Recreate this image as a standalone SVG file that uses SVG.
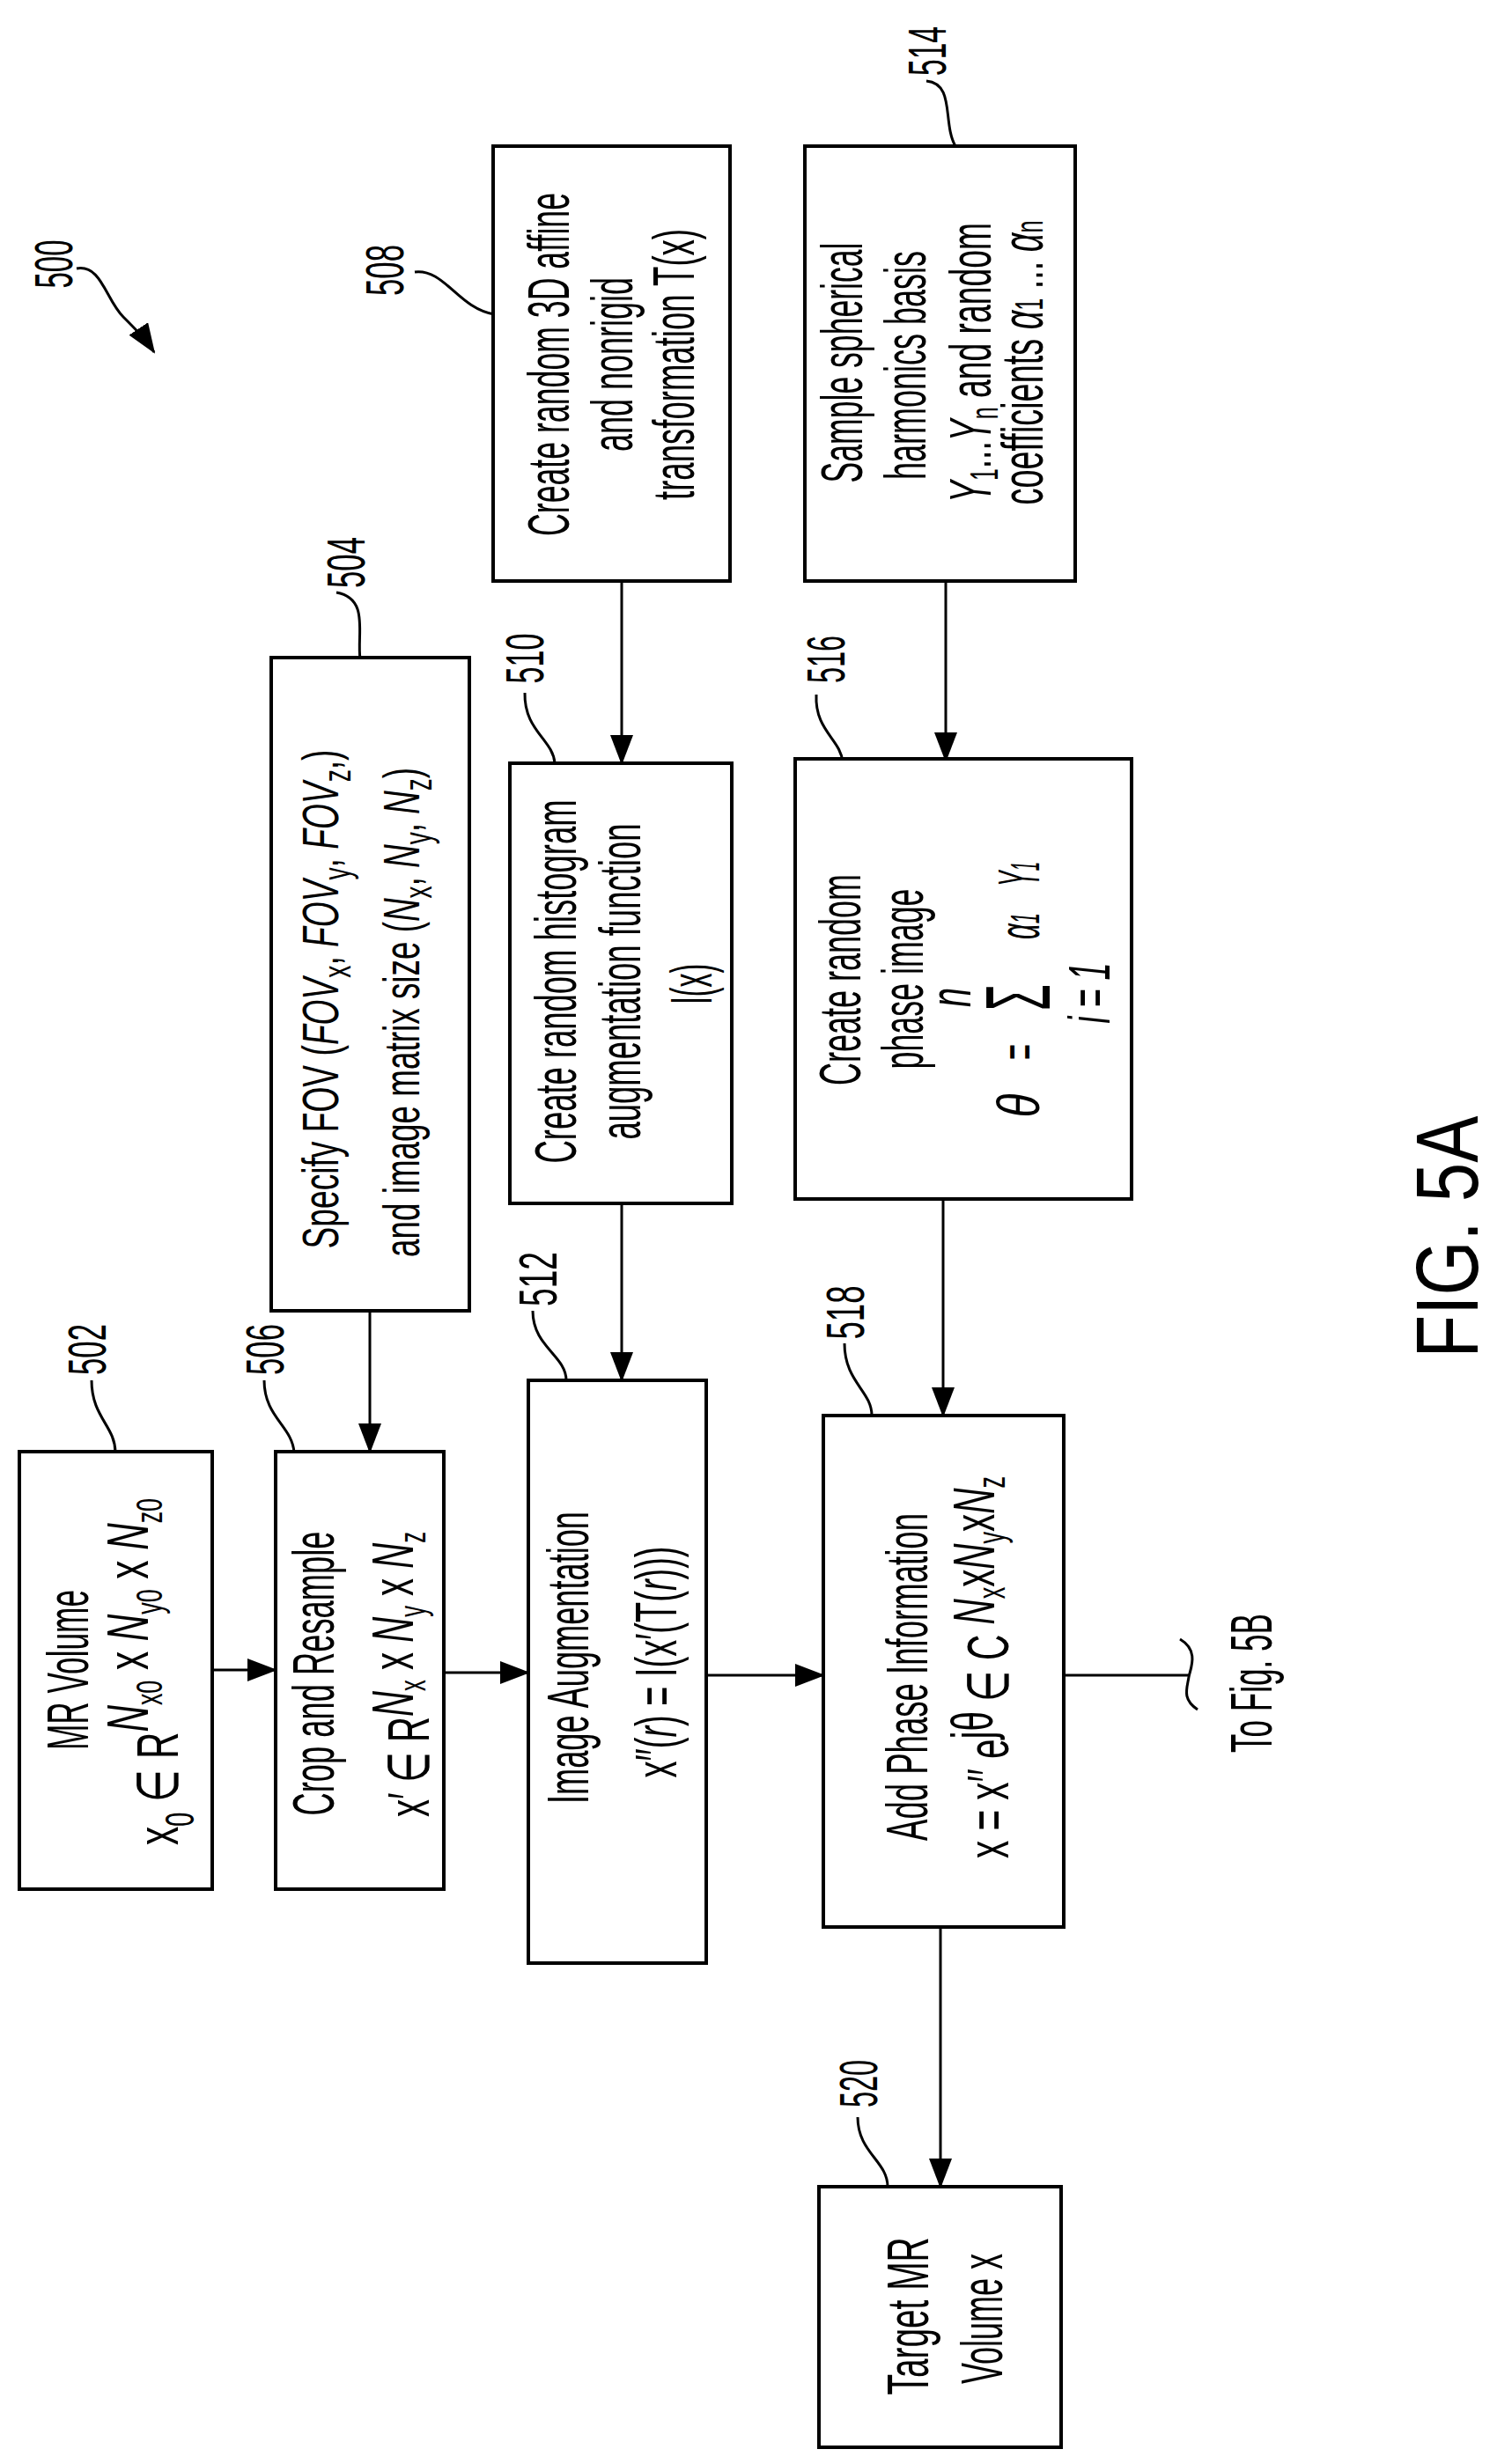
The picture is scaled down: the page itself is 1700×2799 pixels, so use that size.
<svg xmlns="http://www.w3.org/2000/svg" width="1700" height="2799" viewBox="0 0 1700 2799">
<style>
text{font-family:"Liberation Sans",Arial,sans-serif;fill:#000;font-size:66px;text-anchor:middle}
.lbl{font-size:62px}
.box{fill:#fff;stroke:#000;stroke-width:4}
.ln{fill:none;stroke:#000;stroke-width:3}
.ld{fill:none;stroke:#000;stroke-width:3}
</style>
<defs>
<marker id="ah" markerUnits="userSpaceOnUse" markerWidth="34" markerHeight="26" refX="32" refY="13" orient="auto">
<path d="M0,0 L34,13 L0,26 Z" fill="#000"/>
</marker>
</defs>
<rect width="1700" height="2799" fill="#fff"/>

<g id="connectors">
<line class="ln" x1="241" y1="1897" x2="313" y2="1897" marker-end="url(#ah)"/>
<line class="ln" x1="420" y1="1489" x2="420" y2="1649" marker-end="url(#ah)"/>
<line class="ln" x1="504" y1="1900" x2="600" y2="1900" marker-end="url(#ah)"/>
<line class="ln" x1="706" y1="660" x2="706" y2="867" marker-end="url(#ah)"/>
<line class="ln" x1="706" y1="1367" x2="706" y2="1568" marker-end="url(#ah)"/>
<line class="ln" x1="1074" y1="660" x2="1074" y2="864" marker-end="url(#ah)"/>
<line class="ln" x1="1071" y1="1362" x2="1071" y2="1608" marker-end="url(#ah)"/>
<line class="ln" x1="802" y1="1903" x2="935" y2="1903" marker-end="url(#ah)"/>
<line class="ln" x1="1068" y1="2189" x2="1068" y2="2484" marker-end="url(#ah)"/>
<line class="ln" x1="1208" y1="1903" x2="1350" y2="1903"/>
<path class="ln" d="M1340,1862 C1362,1875 1352,1895 1350,1905 C1348,1918 1342,1930 1360,1942"/>
<path class="ld" d="M87,305 C115,300 120,340 140,360 C155,375 165,385 175,400" marker-end="url(#ah)"/>
</g>

<g id="leaders">
<path class="ld" d="M471,309 C505,305 520,350 561,357"/>
<path class="ld" d="M1052,92 C1085,95 1070,140 1085,166"/>
<path class="ld" d="M382,673 C420,680 405,720 409,749"/>
<path class="ld" d="M596,787 C595,830 628,840 630,867"/>
<path class="ld" d="M927,789 C925,830 955,840 957,866"/>
<path class="ld" d="M104,1568 C104,1610 131,1620 131,1650"/>
<path class="ld" d="M300,1568 C300,1610 332,1620 334,1650"/>
<path class="ld" d="M605,1489 C605,1530 643,1540 643,1568"/>
<path class="ld" d="M959,1526 C959,1570 990,1580 990,1608"/>
<path class="ld" d="M974,2405 C974,2445 1008,2455 1008,2484"/>
</g>

<g id="n500"><text class="lbl" transform="translate(82,300) rotate(-90)" textLength="55" lengthAdjust="spacingAndGlyphs">500</text></g>

<g id="n502">
<text class="lbl" transform="translate(120,1533) rotate(-90)" textLength="58" lengthAdjust="spacingAndGlyphs">502</text>
<rect class="box" x="22" y="1649" width="219" height="497"/>
<text transform="translate(100,1897) rotate(-90)" textLength="182" lengthAdjust="spacingAndGlyphs">MR Volume</text>
<text transform="translate(202,1899) rotate(-90)" textLength="394" lengthAdjust="spacingAndGlyphs">x<tspan font-size="46" dy="18">0</tspan><tspan dy="-18"> ∈ R</tspan><tspan dy="-34" font-style="italic">N</tspan><tspan font-size="42" dy="16">x0</tspan><tspan dy="-16"> x </tspan><tspan font-style="italic">N</tspan><tspan font-size="42" dy="16">y0</tspan><tspan dy="-16"> x </tspan><tspan font-style="italic">N</tspan><tspan font-size="42" dy="16">z0</tspan></text>
</g>

<g id="n504">
<text class="lbl" transform="translate(414,639) rotate(-90)" textLength="58" lengthAdjust="spacingAndGlyphs">504</text>
<rect class="box" x="308" y="747" width="225" height="742"/>
<text style="font-size:58px" transform="translate(384,1135) rotate(-90)" textLength="567" lengthAdjust="spacingAndGlyphs">Specify FOV (<tspan font-style="italic">FOV</tspan><tspan font-size="44" dy="14">x</tspan><tspan dy="-14">, </tspan><tspan font-style="italic">FOV</tspan><tspan font-size="44" dy="14">y</tspan><tspan dy="-14">, </tspan><tspan font-style="italic">FOV</tspan><tspan font-size="44" dy="14">z</tspan><tspan dy="-14">,)</tspan></text>
<text style="font-size:58px" transform="translate(476,1150) rotate(-90)" textLength="556" lengthAdjust="spacingAndGlyphs">and image matrix size (<tspan font-style="italic">N</tspan><tspan font-size="44" dy="14">x</tspan><tspan dy="-14">, </tspan><tspan font-style="italic">N</tspan><tspan font-size="44" dy="14">y</tspan><tspan dy="-14">, </tspan><tspan font-style="italic">N</tspan><tspan font-size="44" dy="14">z</tspan><tspan dy="-14">)</tspan></text>
</g>

<g id="n506">
<text class="lbl" transform="translate(322,1533) rotate(-90)" textLength="58" lengthAdjust="spacingAndGlyphs">506</text>
<rect class="box" x="313" y="1649" width="191" height="497"/>
<text transform="translate(379,1901) rotate(-90)" textLength="323" lengthAdjust="spacingAndGlyphs">Crop and Resample</text>
<text transform="translate(487,1902) rotate(-90)" textLength="324" lengthAdjust="spacingAndGlyphs">x′ ∈ R<tspan dy="-18" font-style="italic">N</tspan><tspan font-size="42" dy="14">x</tspan><tspan dy="-14"> x </tspan><tspan font-style="italic">N</tspan><tspan font-size="42" dy="14">y</tspan><tspan dy="-14"> x </tspan><tspan font-style="italic">N</tspan><tspan font-size="42" dy="14">z</tspan></text>
</g>

<g id="n508">
<text class="lbl" transform="translate(458,307) rotate(-90)" textLength="58" lengthAdjust="spacingAndGlyphs">508</text>
<rect class="box" x="560" y="166" width="269" height="494"/>
<text transform="translate(646,414) rotate(-90)" textLength="390" lengthAdjust="spacingAndGlyphs">Create random 3D affine</text>
<text transform="translate(718,414) rotate(-90)" textLength="198" lengthAdjust="spacingAndGlyphs">and nonrigid</text>
<text transform="translate(788,414) rotate(-90)" textLength="308" lengthAdjust="spacingAndGlyphs">transformation T(x)</text>
</g>

<g id="n510">
<text class="lbl" transform="translate(617,748) rotate(-90)" textLength="57" lengthAdjust="spacingAndGlyphs">510</text>
<rect class="box" x="579" y="867" width="252" height="500"/>
<text transform="translate(654,1115) rotate(-90)" textLength="413" lengthAdjust="spacingAndGlyphs">Create random histogram</text>
<text transform="translate(727,1115) rotate(-90)" textLength="359" lengthAdjust="spacingAndGlyphs">augmentation function</text>
<text transform="translate(808,1118) rotate(-90)" textLength="46" lengthAdjust="spacingAndGlyphs">I(x)</text>
</g>

<g id="n512">
<text class="lbl" transform="translate(632,1453) rotate(-90)" textLength="62" lengthAdjust="spacingAndGlyphs">512</text>
<rect class="box" x="600" y="1568" width="202" height="662"/>
<text transform="translate(668,1883) rotate(-90)" textLength="332" lengthAdjust="spacingAndGlyphs">Image Augmentation</text>
<text transform="translate(768,1888) rotate(-90)" textLength="263" lengthAdjust="spacingAndGlyphs">x′′(<tspan font-style="italic">r</tspan>) = I(x′(T(<tspan font-style="italic">r</tspan>)))</text>
</g>

<g id="n514">
<text class="lbl" transform="translate(1074,58) rotate(-90)" textLength="56" lengthAdjust="spacingAndGlyphs">514</text>
<rect class="box" x="914" y="166" width="307" height="494"/>
<text transform="translate(979,412) rotate(-90)" textLength="273" lengthAdjust="spacingAndGlyphs">Sample spherical</text>
<text transform="translate(1051,415) rotate(-90)" textLength="260" lengthAdjust="spacingAndGlyphs">harmonics basis</text>
<text transform="translate(1125,412) rotate(-90)" textLength="318" lengthAdjust="spacingAndGlyphs"><tspan font-style="italic">Y</tspan><tspan font-size="44" dy="8">1</tspan><tspan dy="-8">...</tspan><tspan font-style="italic">Y</tspan><tspan font-size="44" dy="8">n</tspan><tspan dy="-8"> and random</tspan></text>
<text transform="translate(1184,412) rotate(-90)" textLength="323" lengthAdjust="spacingAndGlyphs">coefficients <tspan font-style="italic">α</tspan><tspan font-size="44">1</tspan> ... <tspan font-style="italic">α</tspan><tspan font-size="44">n</tspan></text>
</g>

<g id="n516">
<text class="lbl" transform="translate(959,749) rotate(-90)" textLength="54" lengthAdjust="spacingAndGlyphs">516</text>
<rect class="box" x="903" y="862" width="382" height="500"/>
<text transform="translate(977,1113) rotate(-90)" textLength="240" lengthAdjust="spacingAndGlyphs">Create random</text>
<text transform="translate(1048,1112) rotate(-90)" textLength="205" lengthAdjust="spacingAndGlyphs">phase image</text>
<text font-style="italic" transform="translate(1102,1133) rotate(-90)" textLength="22" lengthAdjust="spacingAndGlyphs">n</text>
<text font-style="italic" transform="translate(1180,1256) rotate(-90)" textLength="27" lengthAdjust="spacingAndGlyphs">θ</text>
<text transform="translate(1180,1195) rotate(-90)" textLength="18" lengthAdjust="spacingAndGlyphs">=</text>
<text style="font-size:104px" transform="translate(1192,1133) rotate(-90)" textLength="30" lengthAdjust="spacingAndGlyphs">Σ</text>
<text font-style="italic" transform="translate(1180,1052) rotate(-90)" textLength="30" lengthAdjust="spacingAndGlyphs">α<tspan font-size="46">1</tspan></text>
<text font-style="italic" transform="translate(1180,993) rotate(-90)" textLength="28" lengthAdjust="spacingAndGlyphs">Y<tspan font-size="46">1</tspan></text>
<text font-style="italic" transform="translate(1260,1128) rotate(-90)" textLength="69" lengthAdjust="spacingAndGlyphs">i = 1</text>
</g>

<g id="n518">
<text class="lbl" transform="translate(981,1491) rotate(-90)" textLength="61" lengthAdjust="spacingAndGlyphs">518</text>
<rect class="box" x="935" y="1608" width="273" height="581"/>
<text transform="translate(1053,1905) rotate(-90)" textLength="372" lengthAdjust="spacingAndGlyphs">Add Phase Information</text>
<text transform="translate(1145,1894) rotate(-90)" textLength="434" lengthAdjust="spacingAndGlyphs">x = x′′ e<tspan dy="-18">jθ</tspan><tspan dy="18"> ∈ C </tspan><tspan dy="-16" font-style="italic">N</tspan><tspan font-size="44" dy="12">x</tspan><tspan dy="-12">x</tspan><tspan font-style="italic">N</tspan><tspan font-size="44" dy="12">y</tspan><tspan dy="-12">x</tspan><tspan font-style="italic">N</tspan><tspan font-size="44" dy="12">z</tspan></text>
</g>

<g id="n520">
<text class="lbl" transform="translate(996,2367) rotate(-90)" textLength="54" lengthAdjust="spacingAndGlyphs">520</text>
<rect class="box" x="930" y="2484" width="275" height="296"/>
<text transform="translate(1054,2631) rotate(-90)" textLength="179" lengthAdjust="spacingAndGlyphs">Target  MR</text>
<text transform="translate(1138,2634) rotate(-90)" textLength="148" lengthAdjust="spacingAndGlyphs">Volume x</text>
</g>

<g id="tofig"><text transform="translate(1444,1912) rotate(-90)" textLength="158" lengthAdjust="spacingAndGlyphs">To Fig. 5B</text></g>
<g id="title"><text style="font-size:100px" transform="translate(1678,1405) rotate(-90)" textLength="275" lengthAdjust="spacingAndGlyphs">FIG. 5A</text></g>
</svg>
